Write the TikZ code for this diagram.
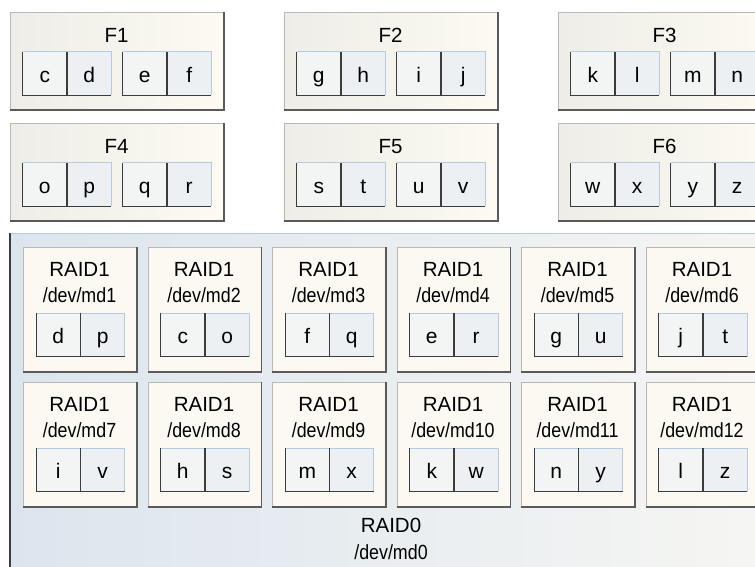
\documentclass[tikz,border=0pt]{standalone}
\usepackage{fontspec}
\setmainfont{Liberation Sans}
\newfontfamily\narrowsf{Liberation Sans}[FakeStretch=0.87]
\usepackage{tikz}
\usetikzlibrary{calc}

\definecolor{shelfL}{HTML}{EEEDE7}
\definecolor{shelfR}{HTML}{FCFAF1}
\definecolor{mirrorbg}{HTML}{FBF9F1}
\definecolor{stripeL}{HTML}{DCE5EE}
\definecolor{stripeR}{HTML}{F6F6F3}
\definecolor{diskL}{HTML}{F3F4F4}
\definecolor{diskR}{HTML}{ECF0F3}
\definecolor{edgelightc}{HTML}{B4CAE0}
\definecolor{edgedarkc}{HTML}{3C3C3C}
\definecolor{rimlight}{HTML}{B8B8B4}
\definecolor{rimdark}{HTML}{5A5A5A}

\tikzset{
  disk/.style={minimum width=44pt, minimum height=43pt, inner sep=0pt,
    text height=17pt, text depth=0pt, font=\fontsize{21}{25}\selectfont},
  edgelight/.style={draw=edgelightc, line width=1pt},
  edgedark/.style={draw=edgedarkc, line width=1.2pt},
  shelf/.style={anchor=north west, minimum width=213pt, minimum height=97pt,
    inner sep=0pt, left color=shelfL, right color=shelfR, draw=rimlight, line width=1pt},
  mirror/.style={anchor=north west, minimum width=113pt, minimum height=124pt,
    inner sep=0pt, fill=mirrorbg, draw=rimlight, line width=1pt},
  title/.style={font=\fontsize{20.5}{24}\selectfont, inner sep=0pt},
  devname/.style={font=\narrowsf\fontsize{20.5}{24}\selectfont, inner sep=0pt},
}

% two drives side by side, centred on #1
\newcommand{\diskpair}[4]{%
  \node[disk, anchor=east, fill=diskL] (#2-#3) at (#1) {#3};
  \node[disk, anchor=west, fill=diskR] (#2-#4) at (#1) {#4};
  \draw[edgelight] (#2-#3.north west) -- (#2-#4.north east) -- (#2-#4.south east);
  \draw[edgedark] (#2-#3.north west) -- (#2-#3.south west) -- (#2-#4.south east);
  \draw[edgedark] (#2-#3.north east) -- (#2-#3.south east);
}
% darker lower and right rim of a box
\newcommand{\boxrim}[1]{%
  \draw[draw=rimdark, line width=1.2pt] (#1.north east) -- (#1.south east) -- (#1.south west);
}

\begin{document}
\begin{tikzpicture}[x=1pt, y=-1pt]
\useasboundingbox (0,0) rectangle (755,566);
\clip (0,0) rectangle (755,566);

% RAID0 stripe holding all the mirrors
\node[anchor=north west, minimum width=762pt, minimum height=360pt, inner sep=0pt,
  left color=stripeL, right color=stripeR] (md0) at (10,233) {};
\draw[edgelight] (md0.north west) -- (md0.north east);
\draw[edgedark] (md0.north west) -- (md0.south west);
\node[title, anchor=base] (md0-raid) at (391,532) {RAID0};
\node[devname, anchor=base] (md0-dev) at (391,559) {/dev/md0};

% the six shelves, four drives each
\foreach \n/\col/\row/\da/\db/\dc/\dd in {1/0/0/c/d/e/f, 2/1/0/g/h/i/j, 3/2/0/k/l/m/n,
                                          4/0/1/o/p/q/r, 5/1/1/s/t/u/v, 6/2/1/w/x/y/z} {
  \node[shelf] (F\n) at (10+274*\col, 12+111*\row) {};
  \boxrim{F\n}
  \node[title, anchor=base] (F\n-name) at ($(F\n.north west)+(106.5,30)$) {F\n};
  \diskpair{$(F\n.north west)+(57,61.5)$}{F\n}{\da}{\db}
  \diskpair{$(F\n.north west)+(157,61.5)$}{F\n}{\dc}{\dd}
}

% twelve RAID1 mirrors
\foreach \n/\col/\row/\da/\db in {1/0/0/d/p, 2/1/0/c/o, 3/2/0/f/q, 4/3/0/e/r, 5/4/0/g/u, 6/5/0/j/t,
                                  7/0/1/i/v, 8/1/1/h/s, 9/2/1/m/x, 10/3/1/k/w, 11/4/1/n/y, 12/5/1/l/z} {
  \node[mirror] (md\n) at (23+124.5*\col, 247+135*\row) {};
  \boxrim{md\n}
  \node[title, anchor=base] (md\n-raid) at ($(md\n.north west)+(56.5,29)$) {RAID1};
  \node[devname, anchor=base] (md\n-dev) at ($(md\n.north west)+(56.5,55)$) {/dev/md\n};
  \diskpair{$(md\n.north west)+(57.5,88)$}{md\n}{\da}{\db}
}
\end{tikzpicture}
\end{document}
